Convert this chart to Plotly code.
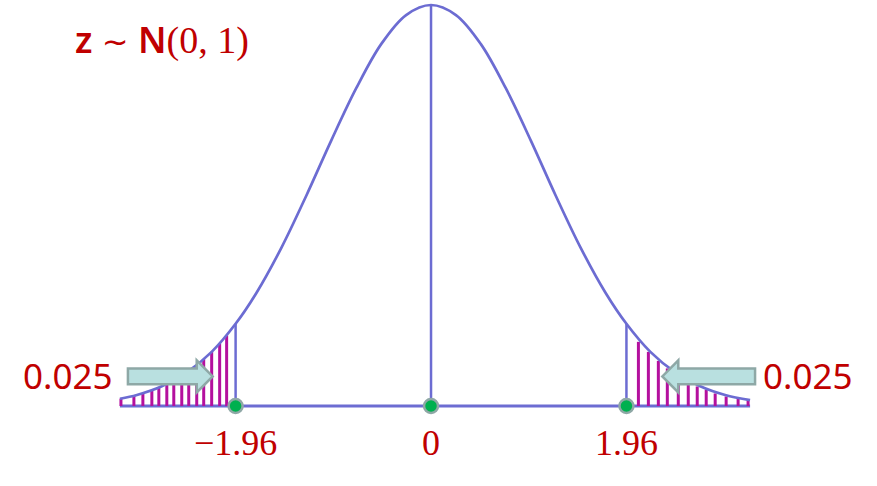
import plotly.graph_objects as go

# Curve
curve_x = [-3.12, -2.95, -2.7, -2.45, -2.2, -1.96, -1.75, -1.5, -1.25, -1.0, -0.75, -0.5, -0.25, 0.0,
           0.25, 0.5, 0.75, 1.0, 1.25, 1.5, 1.75, 1.96, 2.2, 2.45, 2.7, 2.95, 3.2]
curve_y = [0.0072, 0.011, 0.0197, 0.0335, 0.054, 0.082, 0.113, 0.158, 0.210, 0.265, 0.317, 0.361, 0.390, 0.400,
           0.390, 0.361, 0.317, 0.265, 0.210, 0.158, 0.113, 0.082, 0.054, 0.0335, 0.0197, 0.011, 0.0058]

# Hatching in the tails
left_hatch_x = [-3.11, -2.98, -2.89, -2.80, -2.73, -2.65, -2.58, -2.50, -2.43, -2.35, -2.28, -2.20, -2.12, -2.05]
left_hatch_y = [0.0074, 0.0102, 0.0127, 0.0157, 0.0184, 0.0220, 0.0256, 0.0302, 0.0349, 0.0408, 0.0467, 0.0541, 0.0625, 0.0704]
right_hatch_x = [2.08, 2.18, 2.28, 2.37, 2.48, 2.58, 2.67, 2.76, 2.85, 2.96, 3.08, 3.18]
right_hatch_y = [0.0640, 0.0540, 0.0450, 0.0375, 0.0300, 0.0240, 0.0195, 0.0160, 0.0125, 0.0095, 0.0070, 0.0055]

# Critical points
crit_x = [-1.96, 0.0, 1.96]
crit_top = [0.082, 0.400, 0.082]
crit_labels = ["\u22121.96", "0", "1.96"]

tail_prob = ["0.025", "0.025"]
tail_label_x = [-3.65, 3.78]

BLUE = "#6c6cd2"
MAG = "#b4109e"
RED = "#c00000"

fig = go.Figure()

# baseline
fig.add_trace(go.Scatter(x=[curve_x[0], curve_x[-1]], y=[0, 0], mode="lines",
                         line=dict(color=BLUE, width=3), hoverinfo="skip"))

# hatch
hx, hy = [], []
for x, y in zip(left_hatch_x + right_hatch_x, left_hatch_y + right_hatch_y):
    hx += [x, x, None]
    hy += [0, y, None]
fig.add_trace(go.Scatter(x=hx, y=hy, mode="lines", line=dict(color=MAG, width=3), hoverinfo="skip"))

# verticals
vx, vy = [], []
for x, t in zip(crit_x, crit_top):
    vx += [x, x, None]
    vy += [0, t, None]
fig.add_trace(go.Scatter(x=vx, y=vy, mode="lines", line=dict(color=BLUE, width=2.5), hoverinfo="skip"))

# curve
fig.add_trace(go.Scatter(x=curve_x, y=curve_y, mode="lines", line=dict(color=BLUE, width=2.7, shape="spline"),
                         hoverinfo="skip"))

# dots
fig.add_trace(go.Scatter(x=crit_x, y=[0, 0, 0], mode="markers",
                         marker=dict(color="#00b04f", size=14, line=dict(color="#8fa8a6", width=2.5)),
                         hoverinfo="skip"))

# tick labels
for x, lab in zip(crit_x, crit_labels):
    fig.add_annotation(x=x, y=-0.037, text=lab, showarrow=False, xanchor="center", yanchor="middle",
                       font=dict(family="Liberation Serif", size=36, color=RED))

for x, lab in zip(tail_label_x, tail_prob):
    fig.add_annotation(x=x, y=0.030, text=lab, showarrow=False, xanchor="center", yanchor="middle",
                       font=dict(family="Noto Sans", size=35, color=RED))

fig.add_annotation(x=-2.70, y=0.366,
                   text=("z <span style='font-family:DejaVu Sans;font-size:32px;font-weight:400'>~</span> N"
                         "<span style='font-family:Liberation Serif;font-size:38px;font-weight:400'>(0, 1)</span>"),
                   showarrow=False, xanchor="center", yanchor="middle",
                   font=dict(family="Noto Sans", size=36, weight=600, color=RED))

# block arrows
def arrow_path(tail, base, tip, yc, bh, hh):
    return (f"M {tail} {yc-bh} L {base} {yc-bh} L {base} {yc-hh} L {tip} {yc} "
            f"L {base} {yc+hh} L {base} {yc+bh} L {tail} {yc+bh} Z")

for tail, base, tip in [(-3.04, -2.35, -2.19), (3.25, 2.48, 2.32)]:
    fig.add_shape(type="path", path=arrow_path(tail, base, tip, 0.0295, 0.0078, 0.0160),
                  xref="x", yref="y", fillcolor="#b9e0e0", line=dict(color="#8ea8a6", width=2.5))

fig.update_layout(
    width=877, height=486, margin=dict(l=0, r=0, t=0, b=0),
    paper_bgcolor="white", plot_bgcolor="white", showlegend=False,
    xaxis=dict(range=[-4.323, 4.473], visible=False, fixedrange=True),
    yaxis=dict(range=[-0.0798, 0.405], visible=False, fixedrange=True),
)

fig.write_html("out.html", config={"displayModeBar": False},
               post_script="document.body.style.margin='0';")
